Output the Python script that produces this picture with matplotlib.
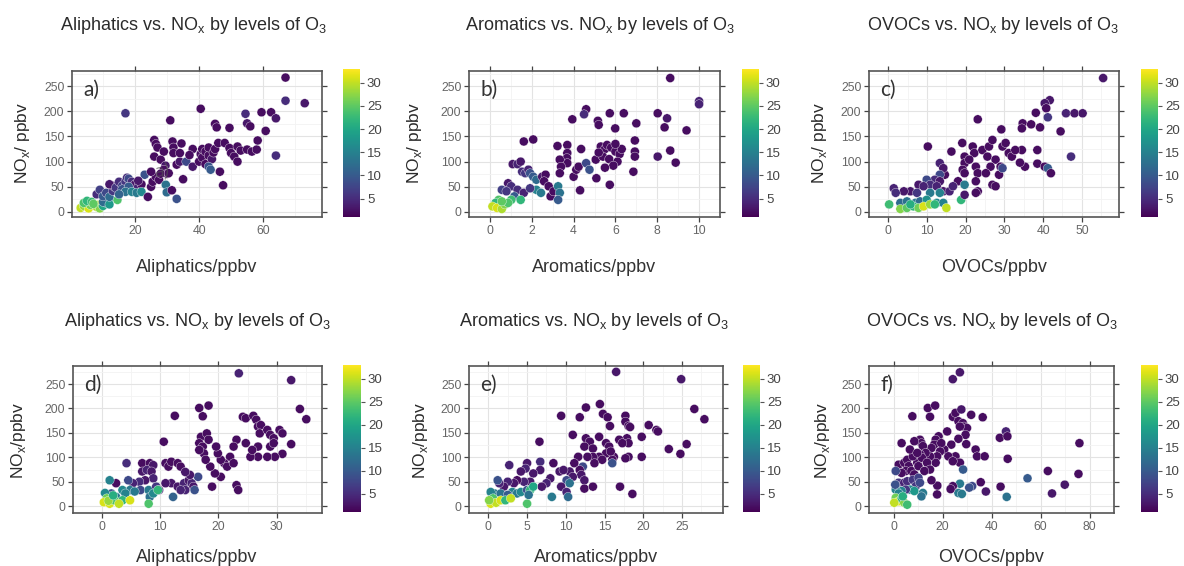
import matplotlib
matplotlib.use("Agg")
import matplotlib.pyplot as plt
import numpy as np

plt.rcParams['font.family'] = ['Liberation Sans', 'DejaVu Sans']
plt.rcParams['mathtext.fontset'] = 'custom'
plt.rcParams['mathtext.rm'] = 'Liberation Sans'

# ---------------- data: (x, NOx, O3) ----------------
# a) Aliphatics, period 1
a_x = [3, 4, 5.5, 6, 4, 5, 6.5, 8, 8.5, 9, 7, 10, 11, 12, 14.5, 10, 12,
       8, 9, 10, 11, 12, 13, 13, 12, 14, 15, 16, 17, 17.5, 18, 19, 20, 21, 22,
       16, 18, 17, 19, 20.5, 22, 15, 23, 21,
       17, 24, 25, 25.5, 26.5, 27.5, 26, 26, 26.5, 27, 28, 29, 29.5, 29, 30,
       29.6, 29.9, 31, 31.7, 32, 32, 33, 31.5, 33, 34, 34.5, 34, 35, 36, 38,
       40, 40.5, 41, 41, 42, 42, 43, 43, 44, 44.5, 45, 43, 43.6, 40.5, 45, 45.5,
       46, 46.5, 47.5, 48, 49.5, 49.5, 50, 51, 52, 52, 53, 55, 55, 56, 54.5,
       56.5, 58, 58.3, 59.5, 60.8, 62.5, 64, 64, 67, 67, 73, 38, 37, 25, 28, 30.5]
a_y = [8, 12, 7, 14, 18, 22, 20, 10, 14, 7, 16, 12, 18, 24, 24, 20, 15,
       35, 44, 31, 38, 30, 42, 52, 55, 48, 60, 52, 60, 68, 66, 60, 55, 50, 55,
       45, 50, 40, 40, 38, 40, 35, 74, 62,
       196, 30, 50, 60, 70, 64, 110, 143, 135, 128, 104, 120, 92, 84, 76,
       54, 39, 182, 140, 128, 117, 94, 43, 26, 100, 136, 117, 65, 100, 90,
       100, 115, 125, 108, 120, 95, 112, 128, 105, 118, 125, 90, 84, 205, 175, 168,
       137, 80, 53, 137, 167, 127, 117, 110, 100, 130, 122, 124, 176, 170, 195,
       120, 124, 142, 198, 161, 198, 186, 112, 267, 221, 216, 125, 113, 80, 76, 77]
a_o3 = [30, 28, 31, 26, 24, 22, 23, 29, 30, 27, 25, 20, 14, 16, 24, 12, 18,
        5, 7, 10, 8, 12, 6, 4, 3, 6, 5, 7, 6, 5, 8, 5, 3, 4, 2,
        9, 10, 13, 15, 14, 16, 11, 9, 3,
        6, 2, 2, 2, 2, 2, 2, 2, 2, 2, 2, 2, 3, 2, 2,
        13, 12, 2, 2, 2, 2, 2, 2, 9, 3, 2, 2, 2, 8, 3,
        2, 2, 2, 2, 2, 2, 2, 2, 3, 2, 2, 9, 10, 2, 2, 2,
        2, 2, 2, 2, 2, 2, 2, 2, 2, 2, 2, 2, 3, 2, 5,
        2, 2, 2, 2, 2, 2, 3, 5, 2, 5, 3, 2, 2, 2, 2, 2]

# b) Aromatics, period 1
b_x = [8.62, 10, 10, 4.6, 4.5, 5.73, 6.4, 8.02, 8.47, 3.94, 5.16, 5.2, 5.99,
       7, 8.35, 9.4, 1.62, 2.07, 3.23, 3.7, 4.36, 6.93, 6.93, 6.93, 8.02, 8.62,
       8.88, 6.86, 5.73, 4.31, 5.09, 4.0, 4.13, 4.24, 3.7, 3.68, 3.7, 3.34, 3.4,
       3.34, 4.6, 4.76, 5.06, 5.3, 5.5, 5.6, 5.8, 6.0, 6.2, 5.4, 5.7, 6.1, 5.9,
       6.3, 5.5, 5.2, 6.0,
       1.09, 1.32, 1.47, 1.54, 1.69, 1.84, 1.92, 2.07, 2.22, 2.5, 2.66, 2.59,
       2.81, 2.9, 3.04, 3.26, 3.34, 3.26, 2.22, 2.44, 0.87, 1.02, 0.57, 0.79,
       1.32, 1.62, 1.92, 1.17, 1.47, 1.02, 0.42, 0.27, 0.12, 0.34, 0.57, 0.72,
       0.87, 0.57]
b_y = [266, 220, 214, 204, 194, 196, 196, 196, 186, 184, 181, 173, 166,
       176, 168, 162, 140, 144, 131, 133, 125, 142, 120, 110, 110, 122,
       98, 80, 54, 43, 67, 70, 84, 90, 117, 107, 97, 104, 90,
       77, 97, 84, 104, 130, 125, 133, 128, 120, 115, 110, 105, 100, 92,
       125, 88, 118, 135,
       95, 95, 100, 80, 77, 84, 77, 70, 64, 70, 74, 61,
       51, 31, 41, 51, 38, 24, 44, 38, 57, 51, 44, 41,
       44, 38, 47, 31, 24, 24, 24, 18, 11, 8, 6, 15,
       18, 21]
b_o3 = [2, 4, 4, 2, 5, 2, 2, 2, 3, 2, 2, 2, 2,
        2, 2, 2, 2, 2, 2, 2, 2, 2, 2, 2, 3, 2,
        2, 2, 2, 2, 2, 2, 2, 2, 2, 2, 2, 2, 2,
        2, 8, 9, 2, 2, 2, 2, 2, 2, 2, 2, 2, 2, 2,
        2, 2, 2, 2,
        3, 4, 3, 5, 6, 4, 9, 10, 12, 3, 2, 2,
        2, 2, 2, 14, 13, 10, 15, 14, 3, 5, 7, 6,
        5, 4, 6, 10, 22, 23, 24, 22, 30, 31, 29, 27,
        24, 25]

# c) OVOCs, period 1
c_x = [55.5, 41.7, 40.4, 40.8, 41.2, 45.9, 48.1, 50.2, 38.1, 44.5, 34.7, 34.5,
       36.9, 39.2, 29.2, 23.1, 10.2, 38.5, 38.5, 40.4, 41.2, 42, 47.2, 35.3,
       34, 34.5,
       16.3, 19.1, 19.7, 19.7, 19.2, 19.7, 18, 21.8, 22.2, 20.9, 22.6, 23.1,
       22.6, 23.1, 22.6, 24.3, 26, 25.6, 27.7, 26.4, 25.2, 26.9, 27.7, 28.6,
       29, 29.5, 30.3, 31.1, 31.9, 29.5, 32.8, 26.9,
       19.7, 18.8, 19.7, 14.6, 13.3, 14.2, 13.3, 12, 13.3, 9.9, 10.8, 12.5,
       7.8, 9.1, 5.7, 7.4, 4, 1.4, 1.9, 14.2, 15.8, 16.7, 13.3, 10.8,
       3.1, 4.8, 7, 8.2, 9.9, 12.5, 14.2,
       0.2, 3.1, 4.8, 6.5, 7.8, 9.1, 10.8, 12, 15, 5.7]
c_y = [266, 222, 216, 206, 188, 196, 196, 196, 197, 160, 176, 166,
       174, 168, 164, 184, 130, 123, 96, 90, 87, 77, 110, 90,
       98, 123,
       120, 137, 110, 97, 84, 77, 61, 130, 117, 104, 90, 77,
       61, 41, 38, 123, 130, 110, 104, 90, 77, 54, 51, 74,
       90, 130, 137, 117, 110, 87, 123, 143,
       54, 24, 34, 74, 97, 87, 74, 64, 61, 64, 54, 51,
       54, 51, 41, 38, 41, 47, 38, 41, 41, 51, 38, 38,
       18, 21, 18, 21, 24, 18, 18,
       15, 6, 8, 11, 8, 11, 15, 15, 8, 15]
c_o3 = [3, 3, 3, 2, 6, 4, 3, 3, 2, 2, 2, 2,
        2, 2, 2, 2, 2, 2, 2, 2, 10, 2, 5, 2,
        2, 2,
        2, 2, 2, 2, 2, 2, 2, 2, 2, 2, 2, 2,
        2, 2, 2, 2, 2, 2, 2, 2, 2, 2, 2, 2,
        2, 2, 2, 2, 2, 8, 2, 2,
        14, 22, 3, 2, 4, 3, 8, 5, 3, 8, 5, 4,
        3, 4, 3, 6, 3, 4, 5, 3, 4, 4, 15, 14,
        12, 13, 14, 12, 17, 16, 15,
        23, 27, 25, 22, 26, 31, 28, 22, 30, 21]

# d) Aliphatics, period 2
d_x = [23.5, 32.5, 34, 35.1, 31, 32.5,
       24.2, 24.7, 26, 26.5, 26.8, 27.3, 26.8, 27.1, 28.4, 28.9, 29.5, 30.5, 31,
       28.9, 29.5, 29.7, 28.4, 26.8, 25.5, 25.8, 24.7, 23.1, 22.6, 22, 21, 20.4,
       19.9, 19.6, 21.5, 22.6, 23.1, 23.4, 18.9, 20.4, 19.4, 18.6,
       16.7, 17.3, 18.3, 17, 16.7, 17.3, 18, 18.3, 17.5, 16.7, 17.8,
       12.5, 10.6, 10.9, 11.4, 11.9, 13, 13.5, 11.9, 13, 12.2, 14.1, 14.9, 15.4,
       15.7, 15.9, 14.3, 16.5, 15.1, 10.9, 13.5, 14.3,
       6.9, 6.9, 8.2, 8.8, 7.7, 8.5, 8.8, 7.4, 6.4, 6.6, 8, 9.3, 9.8, 8.2, 8.8,
       8, 9.6, 5.3, 4.5, 4.8, 5.6, 3.5, 4, 2.4, 4.2, 1.3, 1.6, 2.4, 3.5, 0.5,
       0.8, 0.3, 1.3, 2.1, 1.1, 2.9, 4.8, 1.9]
d_y = [272, 258, 199, 178, 107, 127,
       183, 180, 185, 177, 163, 166, 122, 149, 156, 146, 139, 156, 149,
       122, 129, 101, 101, 101, 101, 115, 129, 136, 122, 101, 88, 95,
       108, 122, 81, 88, 43, 33, 40, 60, 67, 81,
       201, 184, 206, 142, 129, 122, 149, 136, 108, 115, 95,
       185, 132, 88, 81, 91, 88, 81, 47, 40, 19, 47, 53, 47,
       40, 33, 33, 60, 64, 47, 33, 70,
       88, 71, 88, 84, 74, 71, 57, 53, 50, 33, 33, 40, 33, 19, 26,
       5, 33, 47, 53, 33, 30, 33, 26, 47, 88, 53, 26, 19, 12, 27,
       16, 8, 5, 12, 11, 5, 12, 22]
d_o3 = [4, 3, 2, 2, 2, 2,
        2, 2, 2, 2, 2, 2, 2, 2, 2, 2, 2, 2, 2,
        2, 2, 2, 2, 2, 2, 2, 2, 2, 2, 2, 2, 2,
        2, 2, 2, 2, 2, 2, 2, 2, 2, 2,
        2, 2, 2, 2, 2, 2, 2, 2, 2, 2, 2,
        2, 2, 2, 2, 2, 2, 2, 3, 3, 11, 4, 3, 4,
        3, 9, 4, 8, 3, 3, 4, 3,
        2, 3, 2, 3, 4, 3, 4, 3, 5, 8, 14, 6, 4, 13, 16,
        24, 22, 4, 8, 14, 14, 16, 15, 2, 5, 15, 9, 14, 22, 16,
        26, 31, 31, 24, 28, 30, 31, 21]

# e) Aromatics, period 2
e_x = [16.5, 24.9, 26.6, 27.9, 23.3, 24.8, 25.6,
       9.4, 12.6, 11.8, 14.4, 14.8, 15.4, 15.7, 17.7, 17.7, 18.1, 18.3, 20.7,
       21.7, 21.9, 19.8, 17.9, 18.1, 16.9, 17.3, 18.1, 17.7, 19.8, 16.2, 16,
       17, 18.6,
       10.9, 6.6, 12.6, 13.1, 12.4, 13.5, 14.3, 15.2, 15.6, 15.2, 15.8, 14.3,
       14.7, 13.5, 13.7, 16, 12.2, 12.8, 11.6, 11.1, 11.8, 12, 12.4, 12.4, 13.5,
       10.5, 10.9, 10.1, 10.5, 9.4, 10.1, 10.3, 9.2, 9.7, 8.4, 8, 7.5, 6.9, 8.2,
       6.7, 6.7, 5.8, 5.4, 5, 4.8, 4.2, 4.6, 3.7, 3.3, 2.5, 2, 1.4, 2.7, 1.2,
       3.1, 3.7, 4.2, 5, 5.4, 5.8, 5.2, 5, 0.8, 0.3, 1.6, 2.5, 0.6, 0.3, 1, 1.6,
       2.2, 0.1, 2.9]
e_y = [275, 260, 199, 178, 117, 107, 127,
       185, 202, 182, 209, 189, 182, 164, 185, 173, 164, 162, 166,
       156, 153, 142, 139, 129, 136, 129, 101, 98, 101, 101, 95,
       40, 25,
       146, 132, 139, 132, 122, 118, 142, 129, 122, 108, 112, 101,
       95, 101, 88, 88, 81, 101, 101, 88, 74, 64, 53, 36, 40,
       71, 60, 53, 47, 40, 29, 19, 71, 74, 88, 57, 47, 40, 19,
       91, 74, 67, 50, 88, 77, 71, 50, 53, 47, 50, 40, 47, 84, 53,
       29, 26, 29, 33, 33, 40, 23, 5, 26, 29, 26, 23, 16, 5, 7, 12,
       12, 12, 16]
e_o3 = [3, 3, 2, 2, 2, 2, 2,
        2, 2, 2, 2, 2, 2, 2, 2, 2, 2, 2, 2,
        2, 2, 2, 2, 2, 2, 2, 2, 2, 2, 2, 2,
        2, 2,
        2, 2, 2, 2, 2, 2, 2, 2, 2, 2, 2, 2,
        2, 2, 2, 9, 8, 2, 2, 2, 2, 3, 3, 2, 2,
        3, 3, 8, 13, 3, 4, 12, 3, 3, 2, 3, 4, 3, 14,
        5, 3, 3, 3, 3, 4, 3, 4, 2, 3, 4, 3, 4, 4, 9,
        15, 14, 16, 9, 22, 20, 13, 24, 14, 15, 13, 10, 24, 31, 30, 31,
        22, 27, 30]

# f) OVOCs, period 2
f_x = [24.2, 27.1, 14, 17, 14.9, 7.7, 24.2, 25.3, 27.7, 31.7, 36.4, 26.5,
       28.3, 28.8, 30, 27.1, 21.9, 29.4, 29.7, 26.5, 23.6, 20.7, 18.4, 17.2,
       16.6, 15.5, 19.5, 19, 17.8, 17.2, 14.9, 25.3, 27.1, 28.4, 22.4, 24.2,
       33.5, 34.1, 37.2, 43.4, 45.9, 46.5, 46.6, 63, 64.7, 69.9, 75.9, 75.5,
       54.7, 46.2, 43.7, 37.7, 35.6, 32.1, 30.9, 27.1, 26.5, 27.9, 24.2, 23.3,
       17.9, 17.8, 15.5,
       3.3, 2.1, 4.4, 5.6, 6.2, 5, 3.3, 7.3, 8.5, 9.7, 10.2, 10.8, 11.4, 12,
       8.5, 13.1, 10.8, 11.6, 13.7, 14.9, 12.6, 7.9, 6.7, 9.7,
       0.9, 2.1, 4.4, 5.6, 7.9, 9.1, 10.2, 10.8, 12, 11.4, 6.7, 8.5, 5, 3.3,
       0.9, 2.1, 0.7,
       0.9, 2.1, 3.3, 0.3, 4.4, 5.6, 3.8]
f_y = [260, 274, 201, 206, 183, 184, 183, 191, 198, 187, 182, 174,
       170, 163, 160, 163, 153, 146, 127, 138, 126, 116, 143, 136,
       126, 119, 129, 112, 102, 89, 102, 102, 89, 75, 102, 92,
       116, 102, 102, 140, 153, 143, 97, 72, 26, 44, 129, 66,
       57, 19, 40, 30, 49, 41, 38, 46, 27, 25, 41, 35,
       42, 24, 53,
       129, 85, 89, 95, 82, 72, 68, 72, 65, 89, 82, 136, 129, 123,
       133, 109, 106, 99, 89, 75, 72, 102, 116, 109,
       72, 48, 48, 51, 54, 41, 58, 48, 27, 20, 34, 31, 34, 31,
       34, 26, 44,
       17, 10, 15, 7, 7, 3, 20]
f_o3 = [3, 3, 2, 2, 2, 2, 2, 2, 3, 2, 2, 2,
        2, 2, 2, 2, 2, 2, 2, 2, 2, 2, 2, 2,
        2, 2, 2, 2, 2, 2, 2, 2, 2, 10, 2, 2,
        2, 2, 2, 2, 4, 2, 2, 2, 3, 3, 2, 2,
        10, 13, 2, 3, 2, 8, 9, 14, 14, 14, 2, 2,
        2, 2, 2,
        2, 2, 2, 2, 2, 2, 2, 2, 2, 2, 2, 2, 2, 2,
        2, 2, 2, 2, 2, 2, 2, 2, 2, 2,
        8, 6, 4, 5, 6, 6, 7, 8, 14, 13, 16, 18, 6, 15,
        15, 15, 9,
        26, 31, 22, 30, 27, 23, 21]

titles = [r"Aliphatics vs. NO$_{\mathrm{x}}$ by levels of O$_{\mathrm{3}}$",
          r"Aromatics vs. NO$_{\mathrm{x}}$ by levels of O$_{\mathrm{3}}$",
          r"OVOCs vs. NO$_{\mathrm{x}}$ by levels of O$_{\mathrm{3}}$"] * 2
xlabels = ["Aliphatics/ppbv", "Aromatics/ppbv", "OVOCs/ppbv"] * 2
ylabels = [r"NO$_{\mathrm{x}}$/ ppbv"] * 3 + [r"NO$_{\mathrm{x}}$/ppbv"] * 3
letters = ["a)", "b)", "c)", "d)", "e)", "f)"]
xticks = [[20, 40, 60], [0, 2, 4, 6, 8, 10], [0, 10, 20, 30, 40, 50],
          [0, 10, 20, 30], [0, 5, 10, 15, 20, 25], [0, 20, 40, 60, 80]]
xlims = [(0.3, 78.4), (-0.55, 10.8), (-3.8, 59.6),
         (-1.9, 37.8), (-1.9, 30.3), (-5.2, 80.3)]
ylims = [(-10, 280), (-10, 280), (-10, 280),
         (-14, 287), (-14, 287), (-14, 287)]

panels = [(a_x, a_y, a_o3), (b_x, b_y, b_o3), (c_x, c_y, c_o3),
          (d_x, d_y, d_o3), (e_x, e_y, e_o3), (f_x, f_y, f_o3)]

W, H = 1184, 566
fig = plt.figure(figsize=(W / 100, H / 100), dpi=100)

# pixel boxes: (left, top, right, bottom) of plot area and colorbar
boxes = [(72, 71, 322, 217), (469, 71, 720, 217), (869, 71, 1119, 217),
         (73, 366, 322, 513), (469, 366, 723, 513), (869, 366, 1114, 513)]
cboxes = [(343, 69, 360, 217), (742, 69, 759, 217), (1141, 69, 1158, 217),
          (343, 365, 361, 512), (743, 365, 760, 512), (1141, 365, 1158, 512)]
title_pos = [(193, 25), (600, 25), (993, 25), (197, 322), (594, 322), (992, 322)]
xlab_pos = [(197, 267), (594, 267), (994, 267), (197, 557), (596, 557), (991, 557)]
ylab_pos = [(22, 143), (415, 143), (819, 143), (18, 440), (420, 440), (822, 440)]


def frac(l, t, r, b):
    return [l / W, 1 - b / H, (r - l) / W, (b - t) / H]


grey = '#666666'
for i, (xs, ys, cs) in enumerate(panels):
    ax = fig.add_axes(frac(*boxes[i]))
    sc = ax.scatter(xs, ys, c=cs, cmap='viridis', vmin=1, vmax=33, s=42,
                    edgecolors='white', linewidths=0.25, zorder=3)
    ax.set_xlim(*xlims[i])
    ax.set_ylim(*ylims[i])
    ax.set_xticks(xticks[i])
    ax.set_yticks([0, 50, 100, 150, 200, 250])
    mx = np.diff(xticks[i])[0] / 2
    ax.set_xticks(np.arange(xticks[i][0] - mx, xticks[i][-1] + 2 * mx, mx * 2), minor=True)
    ax.set_yticks(np.arange(25, 300, 50), minor=True)
    ax.grid(True, which='major', color='#e3e3e3', lw=0.8, zorder=0)
    ax.grid(True, which='minor', color='#f3f3f3', lw=0.6, zorder=0)
    ax.tick_params(which='minor', length=0)
    ax.tick_params(which='major', direction='out', length=3.5, width=0.9,
                   color='#444444', labelcolor=grey, labelsize=8.8, pad=2,
                   top=True, right=True)
    for sp in ax.spines.values():
        sp.set_color('#555555')
        sp.set_linewidth(1.2)
    ax.text(0.045, 0.87, letters[i], transform=ax.transAxes, fontsize=15,
            color='#333333', family=['Lato', 'DejaVu Sans'], va='center')
    if i == 0:
        ax.text(28.5, 82, "a)", fontsize=14, color='#555555', alpha=0.6,
                family=['Lato', 'DejaVu Sans'], va='center', ha='center', zorder=4)

    cax = fig.add_axes(frac(*cboxes[i]))
    cb = fig.colorbar(sc, cax=cax, ticks=[5, 10, 15, 20, 25, 30])
    cb.outline.set_visible(False)
    cax.tick_params(length=3, width=0.8, color='#555555', labelcolor='#444444',
                    labelsize=9.5, pad=2)

    tx, ty = title_pos[i]
    fig.text(tx / W, 1 - ty / H, titles[i], ha='center', va='center',
             fontsize=13, color='#2b2b2b')
    lx, ly = xlab_pos[i]
    fig.text(lx / W, 1 - ly / H, xlabels[i], ha='center', va='center',
             fontsize=13, color='#333333')
    yx, yy = ylab_pos[i]
    fig.text(yx / W, 1 - yy / H, ylabels[i], ha='center', va='center',
             rotation=90, fontsize=12.5, color='#2b2b2b')

fig.savefig("out.png", dpi=100)
